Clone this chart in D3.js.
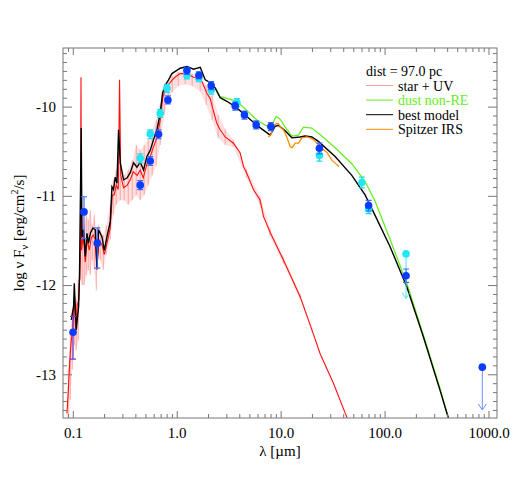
<!DOCTYPE html>
<html>
<head>
<meta charset="utf-8">
<title>SED fit</title>
<script src="https://cdn.jsdelivr.net/npm/d3@7"></script>
<style>
  body { margin: 0; background: #fff; }
  svg { display: block; font-family: "Liberation Serif", "Times New Roman", serif; }
  .axis path { display: none; }
  .axis line { stroke: #777; }
  .axis text { font-size: 15px; fill: #000; font-family: "Liberation Serif", serif; }
</style>
</head>
<body>
<svg id="chart" width="523" height="493"></svg>
<script>
// ---- data (lambda in micron, log nu F_nu in erg/cm2/s) ----
const bestModel = [
  [0.0967,-12.39],[0.1018,-12.24],[0.1034,-11.98],[0.1080,-12.50],[0.1137,-12.24],[0.1160,-11.90],
  [0.1185,-11.00],[0.1205,-10.24],[0.1225,-11.46],[0.1270,-11.38],[0.1319,-11.68],[0.1369,-11.42],
  [0.1418,-11.53],[0.1474,-11.42],[0.1563,-11.36],[0.1646,-11.38],[0.1709,-11.81],[0.1770,-11.38],
  [0.1909,-11.46],[0.2009,-11.61],[0.2132,-11.46],[0.2294,-11.29],[0.2381,-10.90],[0.2467,-10.93],
  [0.2562,-10.79],[0.2661,-10.86],[0.2757,-10.26],[0.2862,-10.63],[0.3080,-10.82],[0.3320,-10.80],
  [0.3571,-10.74],[0.3842,-10.63],[0.4143,-10.68],[0.4457,-10.62],[0.4794,-10.71],[0.5170,-10.56],
  [0.5562,-10.49],[0.5982,-10.37],[0.6451,-10.26],[0.6940,-10.07],[0.7304,-9.85],[0.7750,-9.76],
  [0.8342,-9.70],[0.8992,-9.63],[1.081,-9.57],[1.253,-9.55],[1.450,-9.58],[1.683,-9.56],
  [1.879,-9.70],[2.099,-9.73],[2.345,-9.79],[2.620,-9.90],[3.039,-9.94],[3.651,-10.00],
  [4.732,-10.11],[5.904,-10.21],[7.925,-10.32],[8.854,-10.22],[9.524,-10.21],[11.05,-10.27],
  [12.82,-10.35],[15.40,-10.34],[17.20,-10.33],[19.95,-10.34],[23.10,-10.39],[33.42,-10.56],
  [48.37,-10.77],[64.94,-10.99],[78.04,-11.18],[113.0,-11.57],[163.5,-12.02],[236.1,-12.58],
  [341.9,-13.18],[410.7,-13.49],[476,-13.80]
];

const dustModel = [
  [2.345,-9.79],[2.620,-9.89],[2.721,-9.89],[3.792,-9.94],[5.904,-10.15],[7.925,-10.24],
  [9.05,-10.11],[9.89,-10.14],[11.05,-10.23],[12.82,-10.33],[14.84,-10.32],[16.57,-10.23],
  [19.95,-10.24],[24.90,-10.33],[33.42,-10.46],[48.37,-10.64],[64.94,-10.84],[81.04,-11.06],
  [113.0,-11.49],[163.5,-11.98],[236.1,-12.56],[341.9,-13.16],[410.7,-13.49],[476,-13.74]
];

const irsSpectrum = [
  [7.63,-10.34],[8.10,-10.31],[8.53,-10.22],[9.05,-10.19],[9.52,-10.19],[10.11,-10.24],
  [10.64,-10.26],[11.47,-10.34],[12.35,-10.45],[12.90,-10.46],[13.79,-10.41],[14.84,-10.41],
  [16.00,-10.35],[17.86,-10.34],[19.22,-10.35],[20.68,-10.37],[22.44,-10.41],[24.90,-10.47],
  [27.81,-10.51],[31.07,-10.60],[34.71,-10.65],[36.51,-10.67]
];

const starModel = [
  [0.0879,-13.44],[0.0911,-13.12],[0.0936,-12.84],[0.0967,-12.62],[0.1000,-12.50],[0.1034,-12.17],
  [0.1069,-12.50],[0.1105,-12.22],[0.1142,-12.17],[0.1181,-11.72],[0.1199,-9.67],[0.1215,-11.61],
  [0.1262,-11.44],[0.1319,-11.74],[0.1378,-11.49],[0.1441,-11.61],[0.1506,-11.47],[0.1575,-11.44],
  [0.1646,-11.49],[0.1709,-11.83],[0.1778,-11.49],[0.1909,-11.55],[0.2009,-11.66],[0.2147,-11.52],
  [0.2294,-11.36],[0.2398,-10.99],[0.2506,-10.99],[0.2619,-10.88],[0.2739,-10.93],[0.2818,-9.70],
  [0.2894,-10.77],[0.3080,-10.91],[0.3342,-10.88],[0.3571,-10.82],[0.3817,-10.73],[0.4170,-10.77],
  [0.4457,-10.71],[0.4764,-10.80],[0.5205,-10.63],[0.5562,-10.56],[0.5943,-10.46],[0.6494,-10.34],
  [0.6940,-10.15],[0.7334,-9.90],[0.7750,-9.81],[0.8284,-9.76],[0.9053,-9.70],[0.9890,-9.66],
  [1.081,-9.63],[1.253,-9.63],[1.450,-9.67],[1.683,-9.68],[1.810,-9.76],[1.951,-9.85],
  [2.099,-9.91],[2.244,-10.04],[2.435,-10.19],[2.620,-10.26],[2.926,-10.34],[3.517,-10.41],
  [4.079,-10.52],[4.388,-10.67],[4.732,-10.75],[5.476,-10.93],[6.353,-11.05],[6.833,-11.23],
  [7.925,-11.41],[10.64,-11.72],[15.40,-12.13],[19.95,-12.50],[23.98,-12.77],[32.19,-13.10],
  [43.30,-13.48],[46.6,-13.57]
];

// spread of the noisy stellar spectrum: [lambda, low, high]
const starNoise = [
  [0.0905,-13.57,-12.95],[0.0946,-13.29,-12.56],[0.0989,-12.95,-12.28],[0.1034,-12.67,-12.06],
  [0.1080,-12.73,-12.17],[0.1130,-12.62,-11.94],[0.1181,-11.94,-11.44],[0.1234,-12.00,-11.16],
  [0.1290,-12.00,-11.33],[0.1348,-11.89,-11.21],[0.1409,-11.83,-11.27],[0.1474,-11.89,-11.16],
  [0.1540,-11.72,-11.33],[0.1610,-11.83,-11.21],[0.1683,-12.06,-11.38],[0.1759,-11.66,-11.33],
  [0.1838,-11.72,-11.38],[0.1964,-11.83,-11.44],[0.2099,-11.66,-11.33],[0.2294,-11.49,-11.10],
  [0.2451,-11.21,-10.82],[0.2619,-11.10,-10.71],[0.2862,-11.05,-10.60],[0.3128,-11.05,-10.77],
  [0.3418,-11.10,-10.71],[0.3734,-11.05,-10.60],[0.4080,-10.99,-10.43],[0.4457,-11.05,-10.49],
  [0.4870,-10.99,-10.43],[0.5321,-10.88,-10.37],[0.5813,-10.77,-10.26],[0.6352,-10.66,-10.15],
  [0.6940,-10.43,-9.98],[0.7583,-10.09,-9.81],[0.8284,-9.93,-9.72],[0.9053,-9.84,-9.66],
  [1.034,-9.77,-9.61],[1.207,-9.75,-9.61],[1.409,-9.77,-9.63],[1.683,-9.83,-9.66],
  [1.921,-9.98,-9.76],[2.194,-10.15,-9.87],[2.506,-10.35,-10.09],[2.926,-10.43,-10.25],
  [3.5,-10.45,-10.37],[4.7,-10.80,-10.70],[6.3,-11.10,-11.00],[7.9,-11.45,-11.36],
  [10.6,-11.76,-11.68],[15.4,-12.16,-12.10],[20.0,-12.52,-12.48]
];

// photometry: [lambda, log F, error low, error high]
const photBlue = [
  [0.1005,-12.53,-12.83,-12.35],[0.1282,-11.18,-11.48,-11.01],[0.172,-11.53,-11.81,-11.36],
  [0.4457,-10.88,-10.93,-10.83],[0.5562,-10.61,-10.66,-10.56],[0.668,-10.31,-10.36,-10.26],
  [0.823,-9.925,-9.97,-9.88],[1.253,-9.596,-9.64,-9.56],[1.635,-9.648,-9.69,-9.61],
  [2.146,-9.765,-9.81,-9.72],[3.651,-9.992,-10.04,-9.95],[4.486,-10.093,-10.14,-10.05],
  [5.813,-10.205,-10.25,-10.16],[8.05,-10.224,-10.27,-10.18],[23.61,-10.466,-10.53,-10.41],
  [70.2,-11.108,-11.17,-11.05],[160.9,-11.895,-11.97,-11.82]
];
const photCyan = [
  [0.4457,-10.578,-10.63,-10.53],[0.5562,-10.306,-10.36,-10.26],[0.694,-10.074,-10.12,-10.03],
  [0.805,-9.794,-9.84,-9.75],[1.253,-9.645,-9.69,-9.60],[1.635,-9.682,-9.72,-9.64],
  [2.146,-9.813,-9.86,-9.77],[3.792,-9.955,-10.00,-9.91],[23.61,-10.547,-10.61,-10.49],
  [60.4,-10.850,-10.91,-10.79],[70.2,-11.147,-11.20,-11.09]
];
// upper limits: [lambda, log F, arrow tip]
const blueLimits = [[871.6,-12.92,-13.40]];
const cyanLimits = [[160.9,-11.65,-12.15]];

const xMajor = [0.1, 1, 10, 100, 1000];
const xTickLabels = ["0.1", "1.0", "10.0", "100.0", "1000.0"];
const yMajor = [-13, -12, -11, -10];
const yTickLabels = ["-13", "-12", "-11", "-10"];
const legendLabels = ["star + UV", "dust non-RE", "best model", "Spitzer IRS"];
const legendColours = ["#ff9c9c", "#66ee22", "#000", "#ff8c00"];
const legendTextColours = ["#000", "#66ee22", "#000", "#000"];

// ---- chart ----
const svg = d3.select("#chart");
const pLeft = 63, pRight = 497, pTop = 48, pBottom = 418;

const x = d3.scaleLog().domain([0.0805, 1207]).range([pLeft, pRight]);
const y = d3.scaleLinear().domain([-13.49, -9.343]).range([pBottom, pTop]);

svg.append("defs").append("clipPath").attr("id", "plot")
  .append("rect").attr("x", pLeft).attr("y", pTop)
  .attr("width", pRight - pLeft).attr("height", pBottom - pTop);

const plot = svg.append("g").attr("clip-path", "url(#plot)");

const line = d3.line().x(d => x(d[0])).y(d => y(d[1]));
const band = d3.area().x(d => x(d[0])).y0(d => y(d[1])).y1(d => y(d[2]));

// noisy star spectrum
plot.append("path").datum(starNoise)
  .attr("d", band).attr("fill", "#ff7070").attr("opacity", 0.22);
plot.selectAll(".noise").data(starNoise).enter().append("line")
  .attr("class", "noise")
  .attr("x1", d => x(d[0])).attr("x2", d => x(d[0]))
  .attr("y1", d => y(d[1])).attr("y2", d => y(d[2]))
  .attr("stroke", "#ff5050").attr("stroke-width", 0.8).attr("opacity", 0.5);
plot.append("path").datum(starModel)
  .attr("d", line).attr("fill", "none").attr("stroke", "#ff1010").attr("stroke-width", 1.1);

plot.append("path").datum(dustModel)
  .attr("d", line).attr("fill", "none").attr("stroke", "#66ee22").attr("stroke-width", 1.3);
plot.append("path").datum(bestModel)
  .attr("d", line).attr("fill", "none").attr("stroke", "#000").attr("stroke-width", 1.4);
plot.append("path").datum(irsSpectrum)
  .attr("d", line).attr("fill", "none").attr("stroke", "#ff8c00").attr("stroke-width", 1.3);

// upper limits
function limits(data, colour) {
  const g = plot.append("g").attr("stroke", colour).attr("fill", "none").attr("stroke-width", 1);
  data.forEach(function(d) {
    const px = x(d[0]), y0 = y(d[1]), y1 = y(d[2]);
    g.append("line").attr("x1", px).attr("x2", px).attr("y1", y0).attr("y2", y1);
    g.append("path").attr("d", "M" + (px - 4) + "," + (y1 - 6) + "L" + px + "," + y1 + "L" + (px + 4) + "," + (y1 - 6));
  });
}

function points(data, colour, barColour) {
  const g = plot.append("g");
  g.selectAll(".bar").data(data).enter().append("path")
    .attr("d", d => {
      const px = x(d[0]), lo = y(d[2]), hi = y(d[3]);
      return "M" + px + "," + lo + "V" + hi +
        "M" + (px - 3) + "," + lo + "H" + (px + 3) +
        "M" + (px - 3) + "," + hi + "H" + (px + 3);
    })
    .attr("stroke", (d, i) => (i == 0 && colour == "#0a3cff") ? "#5a40d8" : barColour)
    .attr("stroke-width", 1.2).attr("fill", "none");
  g.selectAll(".dot").data(data).enter().append("circle")
    .attr("cx", d => x(d[0])).attr("cy", d => y(d[1])).attr("r", 3.8)
    .attr("fill", colour);
}

limits(cyanLimits, "#55e0f0");
limits(blueLimits, "#6c8cff");
points(photCyan, "#22e6f2", "#1fd8e8");
points(photBlue, "#0a3cff", "#3b6cff");
plot.selectAll(".limdot").data(cyanLimits).enter().append("circle")
  .attr("cx", d => x(d[0])).attr("cy", d => y(d[1])).attr("r", 3.8).attr("fill", "#22e6f2");
plot.selectAll(".limdotb").data(blueLimits).enter().append("circle")
  .attr("cx", d => x(d[0])).attr("cy", d => y(d[1])).attr("r", 3.8).attr("fill", "#0a3cff");

// axes
const xMinor = [];
[0.01, 0.1, 1, 10, 100, 1000].forEach(function(dec) {
  for (let k = 2; k < 10; k++) {
    const v = dec * k;
    if (v > x.domain()[0] && v < x.domain()[1]) xMinor.push(v);
  }
});
const yMinor = d3.range(-134, -93).filter(v => v % 10 != 0).map(v => v / 10);

svg.append("g").attr("class", "axis").attr("transform", "translate(0," + pBottom + ")")
  .call(d3.axisBottom(x).tickValues(xMajor).tickFormat((d, i) => xTickLabels[i])
    .tickSizeInner(-7).tickSizeOuter(0).tickPadding(9));
svg.append("g").attr("class", "axis").attr("transform", "translate(0," + pBottom + ")")
  .call(d3.axisBottom(x).tickValues(xMinor).tickFormat("").tickSizeInner(-4).tickSizeOuter(0));
svg.append("g").attr("class", "axis").attr("transform", "translate(0," + pTop + ")")
  .call(d3.axisTop(x).tickValues(xMajor).tickFormat("").tickSizeInner(-7).tickSizeOuter(0));
svg.append("g").attr("class", "axis").attr("transform", "translate(0," + pTop + ")")
  .call(d3.axisTop(x).tickValues(xMinor).tickFormat("").tickSizeInner(-4).tickSizeOuter(0));

svg.append("g").attr("class", "axis").attr("transform", "translate(" + pLeft + ",0)")
  .call(d3.axisLeft(y).tickValues(yMajor).tickFormat((d, i) => yTickLabels[i])
    .tickSizeInner(-9).tickSizeOuter(0).tickPadding(7));
svg.append("g").attr("class", "axis").attr("transform", "translate(" + pLeft + ",0)")
  .call(d3.axisLeft(y).tickValues(yMinor).tickFormat("").tickSizeInner(-4).tickSizeOuter(0));
svg.append("g").attr("class", "axis").attr("transform", "translate(" + pRight + ",0)")
  .call(d3.axisRight(y).tickValues(yMajor).tickFormat("").tickSizeInner(-9).tickSizeOuter(0));
svg.append("g").attr("class", "axis").attr("transform", "translate(" + pRight + ",0)")
  .call(d3.axisRight(y).tickValues(yMinor).tickFormat("").tickSizeInner(-4).tickSizeOuter(0));

svg.append("rect").attr("x", pLeft).attr("y", pTop)
  .attr("width", pRight - pLeft).attr("height", pBottom - pTop)
  .attr("fill", "none").attr("stroke", "#777").attr("stroke-width", 1);

// axis titles
svg.append("text").attr("x", (pLeft + pRight) / 2).attr("y", 456)
  .attr("text-anchor", "middle").attr("font-size", 15).text("λ [µm]");

const yTitle = svg.append("text")
  .attr("transform", "translate(24," + ((pTop + pBottom) / 2) + ") rotate(-90)")
  .attr("text-anchor", "middle").attr("font-size", 15);
yTitle.append("tspan").text("log ν F");
yTitle.append("tspan").attr("font-size", 11).attr("dy", 4).text("ν");
yTitle.append("tspan").attr("dy", -4).text(" [erg/cm");
yTitle.append("tspan").attr("font-size", 10).attr("dy", -6).text("2");
yTitle.append("tspan").attr("dy", 6).text("/s]");

// legend
const legend = svg.append("g").attr("font-size", 14);
legend.append("text").attr("x", 366).attr("y", 76).text("dist = 97.0 pc");
legendLabels.forEach(function(label, i) {
  const ly = 85.5 + i * 14.6;
  legend.append("line").attr("x1", 366).attr("x2", 393).attr("y1", ly).attr("y2", ly)
    .attr("stroke", legendColours[i]).attr("stroke-width", 1);
  legend.append("text").attr("x", 398).attr("y", ly + 5)
    .attr("fill", legendTextColours[i]).text(label);
});
</script>
</body>
</html>
